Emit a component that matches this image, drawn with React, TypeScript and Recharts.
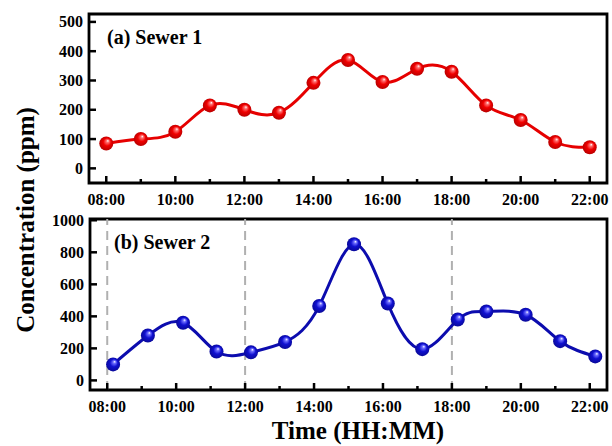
import React from 'react';
import { LineChart, Line, XAxis, YAxis, ReferenceArea, ReferenceLine } from 'recharts';

const hours = [8, 9, 10, 11, 12, 13, 14, 15, 16, 17, 18, 19, 20, 21, 22];
const sewer1 = [85, 100, 125, 215, 200, 190, 292, 370, 295, 340, 330, 215, 165, 90, 72];

const time2 = [8.17, 9.18, 10.2, 11.17, 12.17, 13.16, 14.15, 15.16, 16.14, 17.14, 18.17, 19.0, 20.14, 21.14, 22.16];
const sewer2 = [100, 280, 360, 180, 175, 240, 465, 850, 480, 195, 380, 430, 410, 245, 150];

const yTicks1 = [0, 50, 100, 150, 200, 250, 300, 350, 400, 450, 500];
const yTicks2 = [0, 100, 200, 300, 400, 500, 600, 700, 800, 900, 1000];
const dashedTimes = [8, 12, 18];

const fmtHour = (h: number) => `${h < 10 ? '0' : ''}${h}:00`;

const FONT = '"Liberation Serif", "Times New Roman", serif';

const data1 = hours.map((t, i) => ({ t, v: sewer1[i] }));
const data2 = time2.map((t, i) => ({ t, v: sewer2[i] }));

// ticks point inward; minor ticks have no label
const XTick = (props: any) => {
  const { x, y, payload } = props;
  const major = payload.value % 2 === 0;
  return (
    <g>
      <line x1={x} x2={x} y1={y} y2={y - (major ? 7 : 4)} stroke="#000" strokeWidth={2.5} />
      {major && (
        <text x={x} y={y + 21.5} textAnchor="middle" fontFamily={FONT} fontWeight="bold" fontSize={16} fill="#000">
          {fmtHour(payload.value)}
        </text>
      )}
    </g>
  );
};

const makeYTick = (step: number) => (props: any) => {
  const { x, y, payload } = props;
  const major = payload.value % step === 0;
  return (
    <g>
      <line x1={x} x2={x + (major ? 7 : 4)} y1={y} y2={y} stroke="#000" strokeWidth={2.5} />
      {major && (
        <text x={x - 6} y={y + 5.5} textAnchor="end" fontFamily={FONT} fontWeight="bold" fontSize={16} fill="#000">
          {payload.value}
        </text>
      )}
    </g>
  );
};

const makeDot = (grad: string) => (props: any) => {
  const { cx, cy, index } = props;
  return <circle key={`d-${index}`} cx={cx} cy={cy} r={7} fill={`url(#${grad})`} />;
};

const App: React.FC = () => {
  return (
    <div style={{ position: 'absolute', left: 0, top: 0, width: 612, height: 446, background: '#fff' }}>
      {/* Sewer 1 */}
      <div style={{ position: 'absolute', left: 0, top: 0 }}>
        <LineChart width={612} height={215} data={data1} margin={{ top: 14, right: 5, bottom: 2, left: 39 }}>
          <XAxis
            dataKey="t"
            type="number"
            domain={[7.5, 22.5]}
            ticks={hours}
            height={30}
            axisLine={false}
            tickLine={false}
            tickSize={0}
            tickMargin={0}
            tick={<XTick />}
          />
          <YAxis
            type="number"
            domain={[-50, 527]}
            ticks={yTicks1}
            width={50}
            axisLine={false}
            tickLine={false}
            tickSize={0}
            tickMargin={0}
            tick={makeYTick(100)}
          />
          <ReferenceArea x1={7.5} x2={22.5} y1={-50} y2={527} fill="none" stroke="#000" strokeWidth={2.8} />
          <Line
            type="natural"
            dataKey="v"
            stroke="#e60000"
            strokeWidth={3}
            dot={makeDot('gradRed')}
            activeDot={false}
            isAnimationActive={false}
          />
        </LineChart>
      </div>

      {/* Sewer 2 */}
      <div style={{ position: 'absolute', left: 0, top: 200 }}>
        <LineChart width={612} height={246} data={data2} margin={{ top: 19, right: 5, bottom: 26, left: 40 }}>
          <XAxis
            dataKey="t"
            type="number"
            domain={[7.5, 22.5]}
            ticks={hours}
            height={30}
            axisLine={false}
            tickLine={false}
            tickSize={0}
            tickMargin={0}
            tick={<XTick />}
          />
          <YAxis
            type="number"
            domain={[-60, 1008]}
            ticks={yTicks2}
            width={50}
            axisLine={false}
            tickLine={false}
            tickSize={0}
            tickMargin={0}
            tick={makeYTick(200)}
          />
          {dashedTimes.map((t) => (
            <ReferenceLine key={t} x={t} stroke="#b0b0b0" strokeWidth={2} strokeDasharray="9 6" />
          ))}
          <ReferenceArea x1={7.5} x2={22.5} y1={-60} y2={1008} fill="none" stroke="#000" strokeWidth={2.8} />
          <Line
            type="natural"
            dataKey="v"
            stroke="#0c0cae"
            strokeWidth={3}
            dot={makeDot('gradBlue')}
            activeDot={false}
            isAnimationActive={false}
          />
        </LineChart>
      </div>

      {/* titles and panel labels */}
      <svg width={612} height={446} style={{ position: 'absolute', left: 0, top: 0, pointerEvents: 'none' }}>
        <defs>
          <radialGradient id="gradRed" cx="50%" cy="50%" r="55%" fx="62%" fy="30%">
            <stop offset="0%" stopColor="#ffffff" />
            <stop offset="18%" stopColor="#ff7070" />
            <stop offset="50%" stopColor="#f00000" />
            <stop offset="100%" stopColor="#b00000" />
          </radialGradient>
          <radialGradient id="gradBlue" cx="50%" cy="50%" r="55%" fx="62%" fy="30%">
            <stop offset="0%" stopColor="#ffffff" />
            <stop offset="18%" stopColor="#7070ff" />
            <stop offset="50%" stopColor="#1010d0" />
            <stop offset="100%" stopColor="#080890" />
          </radialGradient>
        </defs>
        <text x={107} y={44} fontFamily={FONT} fontWeight="bold" fontSize={20} fill="#000">(a) Sewer 1</text>
        <text x={114} y={249} fontFamily={FONT} fontWeight="bold" fontSize={20} fill="#000">(b) Sewer 2</text>
        <text x={358} y={439} textAnchor="middle" fontFamily={FONT} fontWeight="bold" fontSize={25} fill="#000">
          Time (HH:MM)
        </text>
        <text
          x={34}
          y={220}
          transform="rotate(-90 34 220)"
          textAnchor="middle"
          fontFamily={FONT}
          fontWeight="bold"
          fontSize={25}
          fill="#000"
        >
          Concentration (ppm)
        </text>
      </svg>
    </div>
  );
};

export default App;
